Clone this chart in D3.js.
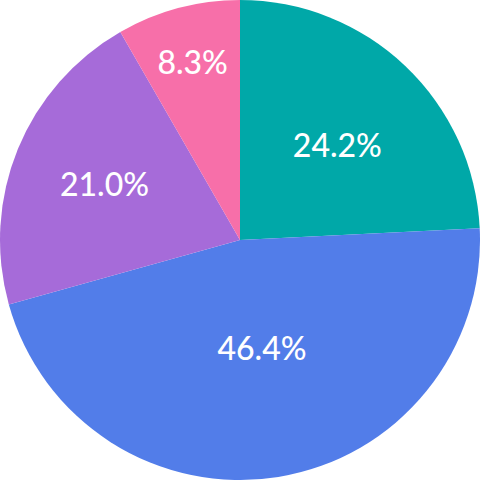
<!DOCTYPE html>
<html><head><meta charset="utf-8">
<script src="https://cdn.jsdelivr.net/npm/d3@7"></script>
<style>html,body{margin:0;padding:0;background:#fff;}svg{display:block;}</style>
</head><body>
<svg id="chart" width="480" height="480"></svg>
<script>
const categories = ["A", "B", "C", "D"];
const values = [24.2, 46.4, 21.0, 8.3];
const labels = ["24.2%", "46.4%", "21.0%", "8.3%"];
const colors = ["#00a8a8", "#527de9", "#a66bd9", "#f76fa9"];
const labelRadiusFrac = [0.565, 0.46, 0.61, 0.765];
const labelAngleShift = [0.04, -0.04, 0, 0];

const W = 480, H = 480, R = 240;
const svg = d3.select("#chart");
const g = svg.append("g").attr("transform", `translate(${W/2},${H/2})`);
const data = categories.map((c, i) => ({c, v: values[i], i}));
const pie = d3.pie().value(d => d.v).sort(null);
const arc = d3.arc().innerRadius(0).outerRadius(R);
const arcs = pie(data);
g.selectAll("path").data(arcs).enter().append("path")
  .attr("d", arc).attr("fill", d => colors[d.data.i]);
g.selectAll("text").data(arcs).enter().append("text")
  .attr("transform", d => {
    const a = (d.startAngle + d.endAngle) / 2 + labelAngleShift[d.data.i];
    const r = R * labelRadiusFrac[d.data.i];
    return `translate(${Math.sin(a) * r},${-Math.cos(a) * r})`;
  })
  .attr("text-anchor", "middle").attr("dy", "0.36em")
  .attr("font-family", "Lato, sans-serif").attr("font-size", 32).attr("font-weight", 500)
  .attr("fill", "#fff").text(d => labels[d.data.i]);
</script>
</body></html>
